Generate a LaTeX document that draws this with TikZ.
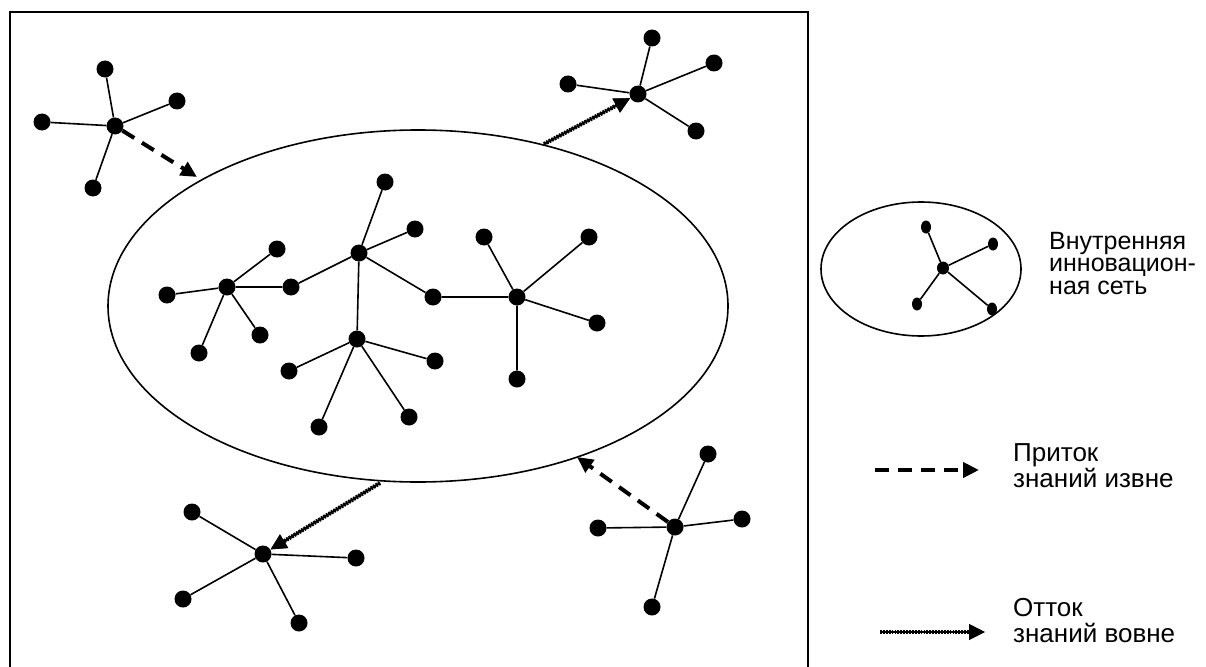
\documentclass[tikz,border=0pt]{standalone}
\usepackage{fontspec}
\setmainfont{Liberation Sans}
\usetikzlibrary{arrows.meta,shapes.geometric}
\tikzset{
  dot/.style={circle, fill=black, inner sep=0pt, minimum size=17pt},
  sdot/.style={ellipse, fill=black, inner sep=0pt, minimum width=10pt, minimum height=13pt},
  shub/.style={ellipse, fill=black, inner sep=0pt, minimum width=12pt, minimum height=13pt},
  edge/.style={line width=1.6pt},
  inflow/.style={line width=4pt, dash pattern=on 14pt off 9pt, -{Triangle[length=16pt,width=15pt]}},
  outflow/.style={line width=4.2pt, dash pattern=on 1.8pt off 1.1pt,
    preaction={draw, line width=2pt, solid},
    -{Triangle[length=16pt,width=15pt]}},
  lbl/.style={anchor=base west, align=left, inner sep=0pt, font=\fontsize{26}{25.5}\selectfont},
}
\begin{document}
\begin{tikzpicture}[x=1pt,y=-1pt]
\useasboundingbox (0,0) rectangle (1206,666);
\clip (0,0) rectangle (1206,666);
% frame
\draw[line width=1.8pt] (10,12) rectangle (808,680);
% main ellipse
\draw[line width=1.6pt] (418,306) ellipse [x radius=310, y radius=176];

% inner network
\node[dot] (A) at (227,287) {};
\node[dot] (a1) at (167,295) {};
\node[dot] (a2) at (277,249) {};
\node[dot] (m1) at (291,287) {};
\node[dot] (a3) at (199,353) {};
\node[dot] (a4) at (260,335) {};
\node[dot] (B) at (359,253) {};
\node[dot] (b1) at (385,182) {};
\node[dot] (b2) at (415,229) {};
\node[dot] (m2) at (433,297) {};
\node[dot] (C) at (517,297) {};
\node[dot] (c1) at (484,237) {};
\node[dot] (c2) at (589,237) {};
\node[dot] (c3) at (597,323) {};
\node[dot] (c4) at (517,379) {};
\node[dot] (D) at (357,339) {};
\node[dot] (d1) at (289,371) {};
\node[dot] (d2) at (435,361) {};
\node[dot] (d3) at (319,427) {};
\node[dot] (d4) at (409,417) {};
\draw[edge] (A) -- (a1) (A) -- (a2) (A) -- (m1) (A) -- (a3) (A) -- (a4);
\draw[edge] (B) -- (m1) (B) -- (b1) (B) -- (b2) (B) -- (m2) (B) -- (D);
\draw[edge] (C) -- (m2) (C) -- (c1) (C) -- (c2) (C) -- (c3) (C) -- (c4);
\draw[edge] (D) -- (d1) (D) -- (d2) (D) -- (d3) (D) -- (d4);

% top-left external star
\node[dot] (TL) at (115,126) {};
\node[dot] (tl1) at (105,69) {};
\node[dot] (tl2) at (177,101) {};
\node[dot] (tl3) at (42,122) {};
\node[dot] (tl4) at (93,188) {};
\draw[edge] (TL) -- (tl1) (TL) -- (tl2) (TL) -- (tl3) (TL) -- (tl4);

% top-right external star
\node[dot] (TR) at (638,94) {};
\node[dot] (tr1) at (652,38) {};
\node[dot] (tr2) at (714,63) {};
\node[dot] (tr3) at (568,84) {};
\node[dot] (tr4) at (696,131) {};
\draw[edge] (TR) -- (tr1) (TR) -- (tr2) (TR) -- (tr3) (TR) -- (tr4);

% bottom-left external star
\node[dot] (BL) at (263,554) {};
\node[dot] (bl1) at (192,512) {};
\node[dot] (bl2) at (356,558) {};
\node[dot] (bl3) at (183,599) {};
\node[dot] (bl4) at (299,623) {};
\draw[edge] (BL) -- (bl1) (BL) -- (bl2) (BL) -- (bl3) (BL) -- (bl4);

% bottom-right external star
\node[dot] (BR) at (675,527) {};
\node[dot] (br1) at (708,454) {};
\node[dot] (br2) at (742,519) {};
\node[dot] (br3) at (598,528) {};
\node[dot] (br4) at (652,607) {};
\draw[edge] (BR) -- (br1) (BR) -- (br2) (BR) -- (br3) (BR) -- (br4);

% flows
\coordinate (inTL) at (197,177);
\coordinate (inBR) at (577,457);
\coordinate (outTR) at (544,144);
\coordinate (outBL) at (380,483);
\draw[inflow] (TL) -- (inTL);
\draw[inflow] (BR) -- (inBR);
\draw[outflow] (outTR) -- (TR);
\draw[outflow] (outBL) -- (BL);

% legend: small network
\draw[line width=1.6pt] (921,269) ellipse [x radius=100, y radius=67];
\node[shub] (H) at (943,268) {};
\node[sdot] (h1) at (926,227) {};
\node[sdot] (h2) at (993,244) {};
\node[sdot] (h3) at (917,304) {};
\node[sdot] (h4) at (992,309) {};
\draw[edge] (H) -- (h1) (H) -- (h2) (H) -- (h3) (H) -- (h4);
\node[lbl, font=\fontsize{25}{22.7}\selectfont] (t1) at (1049,294.5) {Внутренняя\\инновацион-\\ная сеть};

% legend: arrows
\coordinate (li1) at (875,470);
\coordinate (li2) at (979,470);
\draw[inflow] (li1) -- (li2);
\node[lbl] (t2) at (1013,487) {Приток\\знаний извне};
\coordinate (lo1) at (880,632);
\coordinate (lo2) at (985,632);
\draw[outflow] (lo1) -- (lo2);
\node[lbl] (t3) at (1013,642) {Отток\\знаний вовне};
\end{tikzpicture}
\end{document}
